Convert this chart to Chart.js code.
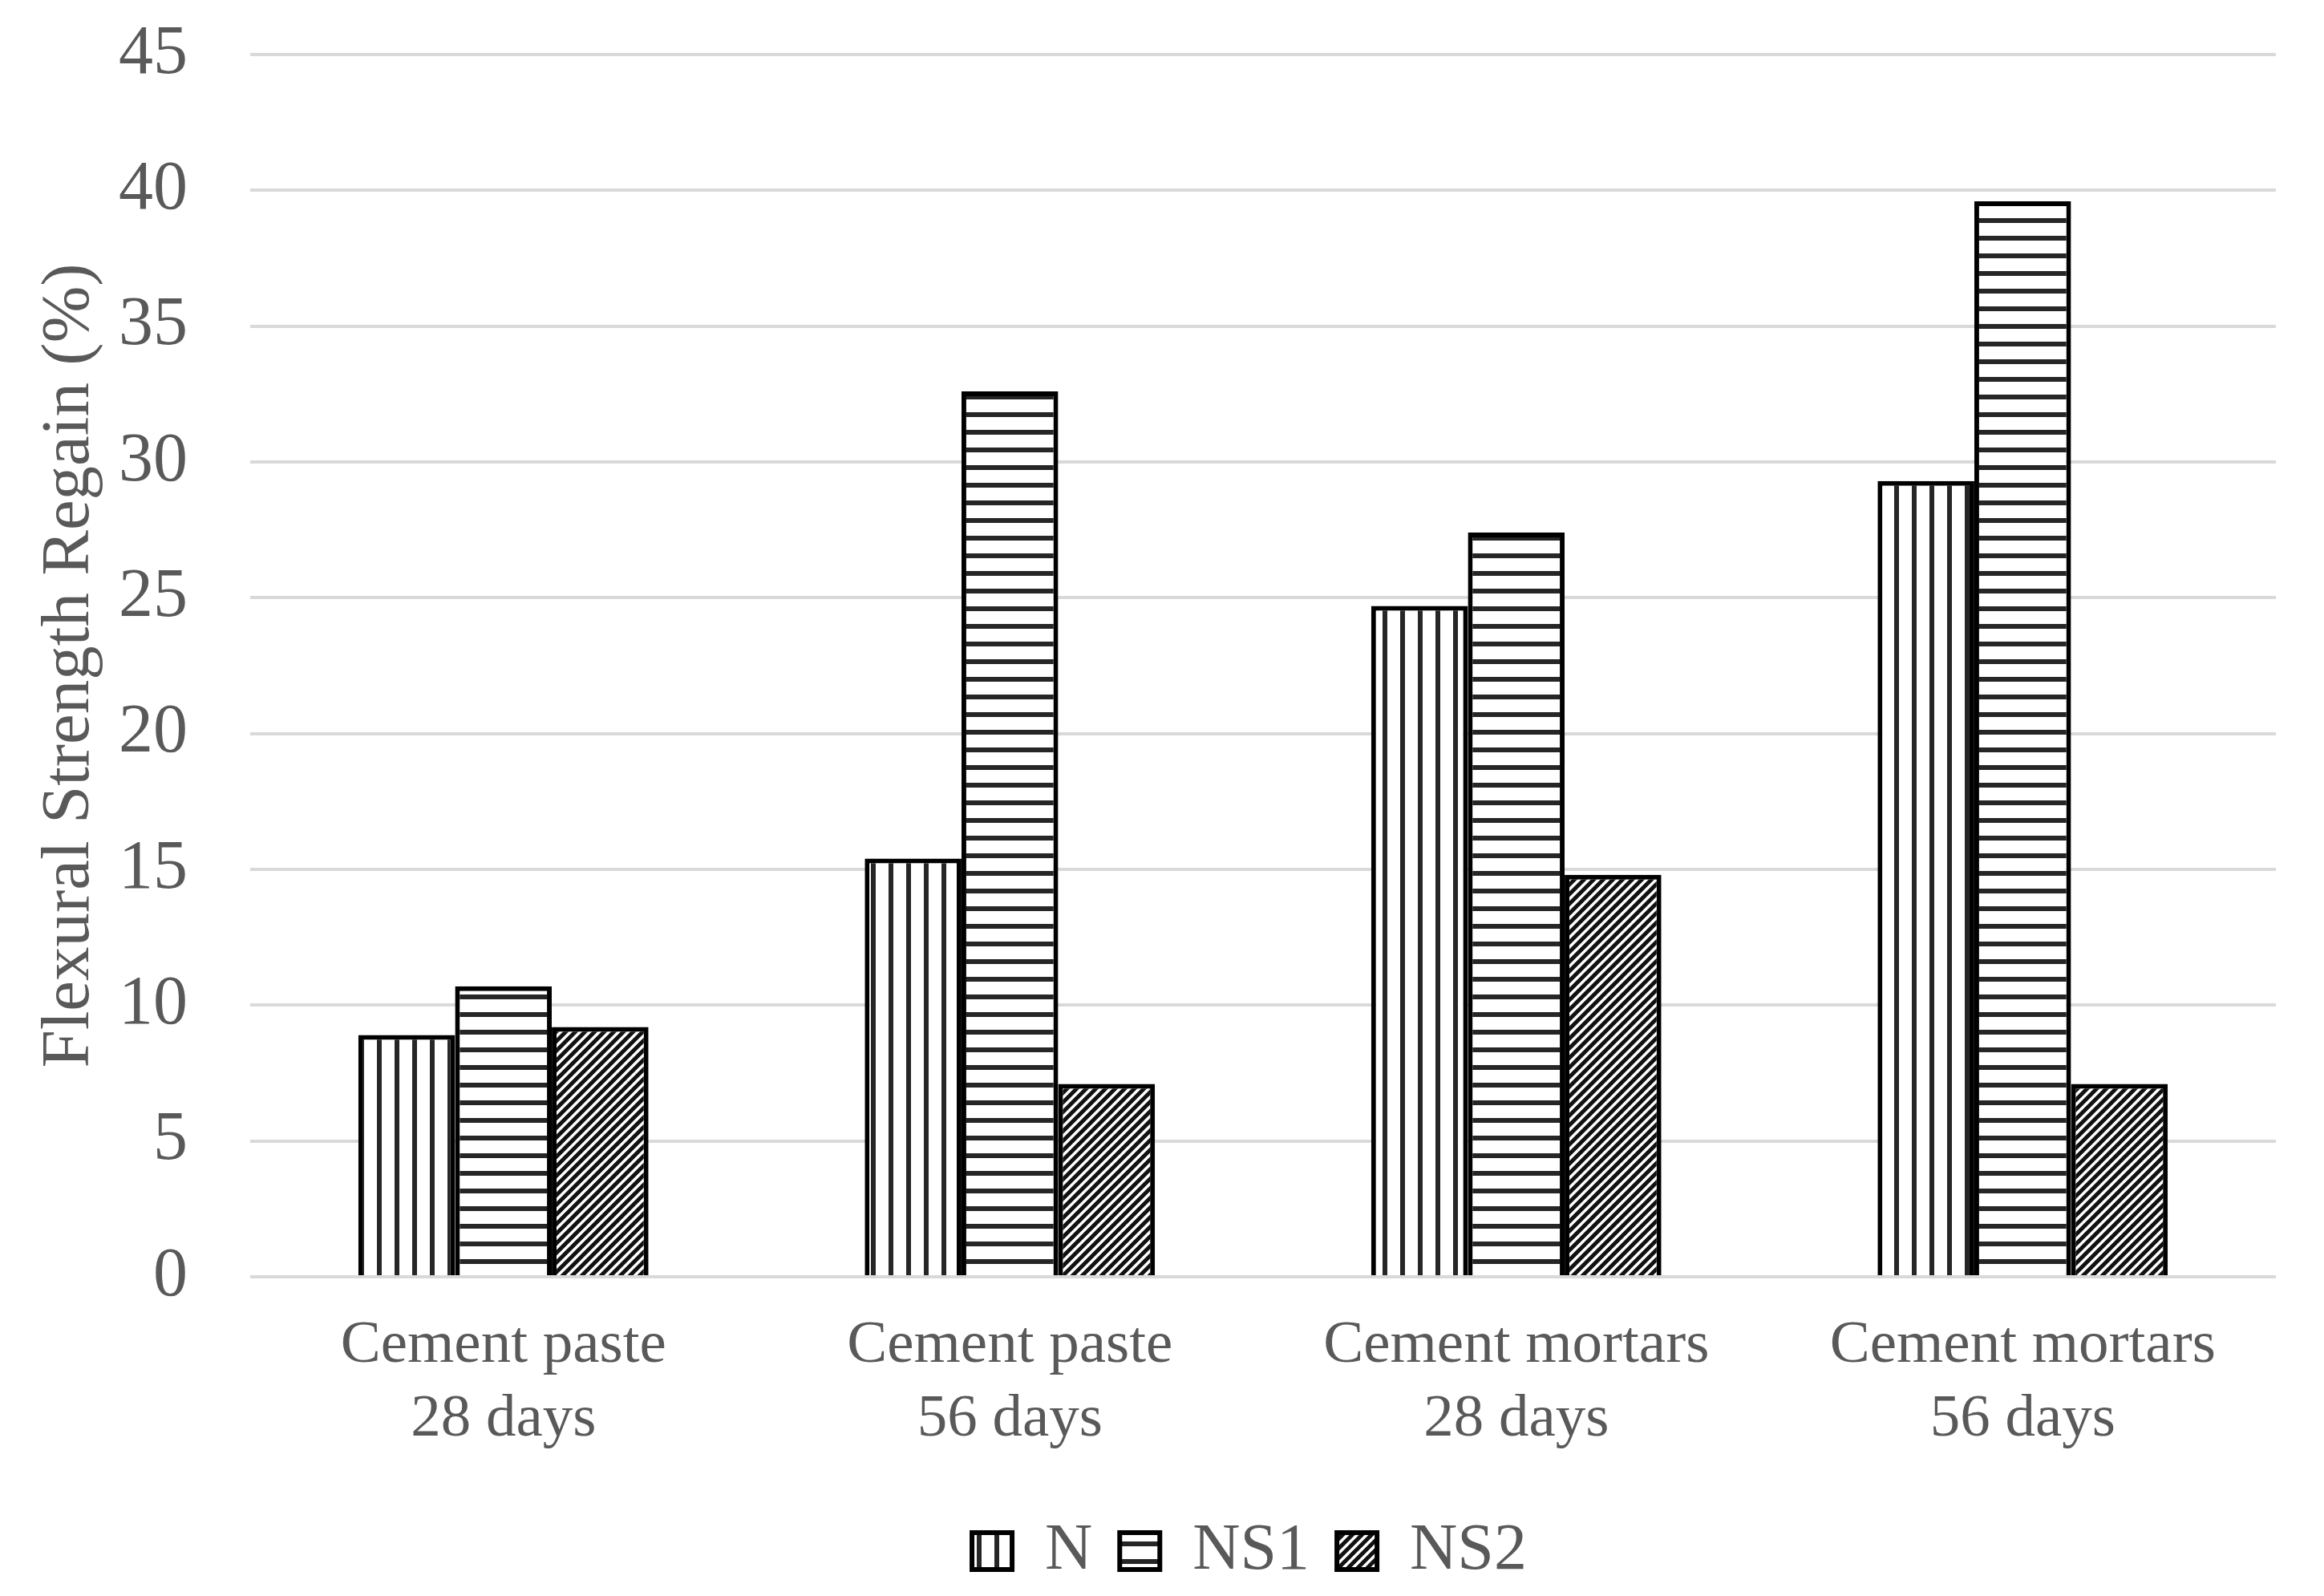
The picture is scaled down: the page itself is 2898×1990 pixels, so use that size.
<!DOCTYPE html>
<html>
<head>
<meta charset="utf-8">
<script src="https://cdn.jsdelivr.net/npm/chart.js@4/dist/chart.umd.min.js"></script>
<style>
  html, body { margin: 0; padding: 0; background: #ffffff; }
  #wrap { width: 2898px; height: 1990px; }
</style>
</head>
<body>
<div id="wrap"><canvas id="c" width="2898" height="1990"></canvas></div>
<script>
// ---- data ----
const categories = [
  ['Cement paste', '28 days'],
  ['Cement paste', '56 days'],
  ['Cement mortars', '28 days'],
  ['Cement mortars', '56 days']
];
const seriesNames = ['N', 'NS1', 'NS2'];
const valuesN   = [8.9, 15.4, 24.7, 29.3];
const valuesNS1 = [10.7, 32.6, 27.4, 39.6];
const valuesNS2 = [9.2, 7.1, 14.8, 7.1];
const yTicks = [0, 5, 10, 15, 20, 25, 30, 35, 40, 45];
const yTitle = 'Flexural Strength Regain (%)';

// ---- layout constants ----
const W = 2898, H = 1990;
const PLOT_LEFT = 312, PLOT_RIGHT = 2838, PLOT_TOP = 68, PLOT_BOTTOM = 1592;
const LEGEND_CENTER_X = 1558, LEGEND_TEXT_Y = 1934;
const TEXT = '#595959';
const FONT = '"Liberation Serif", "Times New Roman", serif';

// ---- patterns ----
function makePattern(kind) {
  const c = document.createElement('canvas');
  const ctx = c.getContext('2d');
  if (kind === 'v') {
    c.width = 22; c.height = 22;
    ctx.fillStyle = '#fff'; ctx.fillRect(0, 0, 22, 22);
    ctx.fillStyle = '#262626'; ctx.fillRect(8, 0, 6, 22);
  } else if (kind === 'h') {
    c.width = 22; c.height = 22;
    ctx.fillStyle = '#fff'; ctx.fillRect(0, 0, 22, 22);
    ctx.fillStyle = '#262626'; ctx.fillRect(0, 8, 22, 6);
  } else {
    const s = 12;
    c.width = s; c.height = s;
    ctx.fillStyle = '#fff'; ctx.fillRect(0, 0, s, s);
    ctx.strokeStyle = '#111'; ctx.lineWidth = 5; ctx.lineCap = 'square';
    ctx.beginPath();
    ctx.moveTo(0, s); ctx.lineTo(s, 0);
    ctx.moveTo(-s / 2, s / 2); ctx.lineTo(s / 2, -s / 2);
    ctx.moveTo(s / 2, s * 1.5); ctx.lineTo(s * 1.5, s / 2);
    ctx.stroke();
  }
  return c.getContext('2d').createPattern(c, 'repeat');
}
const patN = makePattern('v');
const patNS1 = makePattern('h');
const patNS2 = makePattern('d');

const legendShift = {
  id: 'legendShift',
  afterLayout(chart) {
    const l = chart.legend;
    if (!l) return;
    const dx = LEGEND_CENTER_X - (l.left + l.right) / 2;
    const pad = l.options.labels.padding;
    const fs = l.options.labels.font.size;
    const itemH = Math.max(fs, l.options.labels.boxHeight);
    const dy = LEGEND_TEXT_Y - (l.top + pad + itemH / 2);
    l.left += dx; l.right += dx; l.top += dy; l.bottom += dy;
  }
};

const barCommon = {
  borderColor: '#000',
  borderWidth: 6,
  categoryPercentage: 0.573,
  barPercentage: 1.0
};

new Chart(document.getElementById('c'), {
  type: 'bar',
  data: {
    labels: categories,
    datasets: [
      Object.assign({ label: seriesNames[0], data: valuesN, backgroundColor: patN }, barCommon),
      Object.assign({ label: seriesNames[1], data: valuesNS1, backgroundColor: patNS1 }, barCommon),
      Object.assign({ label: seriesNames[2], data: valuesNS2, backgroundColor: patNS2 }, barCommon)
    ]
  },
  options: {
    responsive: false,
    animation: false,
    devicePixelRatio: 1,
    layout: { padding: { left: 0, right: W - PLOT_RIGHT, top: PLOT_TOP, bottom: 0 } },
    plugins: {
      tooltip: { enabled: false },
      legend: {
        position: 'bottom',
        labels: {
          font: { family: FONT, size: 82 },
          color: TEXT,
          boxWidth: 50,
          boxHeight: 46,
          padding: 34
        }
      }
    },
    scales: {
      x: {
        grid: { display: false, drawTicks: false },
        border: { display: false },
        ticks: {
          font: { family: FONT, size: 75, lineHeight: 1.227 },
          color: TEXT,
          padding: 40,
          maxRotation: 0,
          autoSkip: false
        },
        afterFit(scale) {
          const lh = scale.chart.legend ? scale.chart.legend.height : 0;
          scale.height = H - PLOT_BOTTOM - lh;
          scale.paddingLeft = 0; scale.paddingRight = 0;
        }
      },
      y: {
        min: 0,
        max: 45,
        afterBuildTicks(scale) { scale.ticks = yTicks.map(v => ({ value: v })); },
        grid: { color: '#d9d9d9', lineWidth: 4, drawTicks: false },
        border: { display: false },
        ticks: {
          font: { family: FONT, size: 86 },
          color: TEXT,
          padding: 78
        },
        title: {
          display: true,
          text: yTitle,
          font: { family: FONT, size: 85 },
          color: TEXT,
          padding: { top: 37, bottom: 0 }
        },
        afterFit(scale) {
          scale.width = PLOT_LEFT;
          scale.paddingTop = 0; scale.paddingBottom = 0;
        }
      }
    }
  },
  plugins: [legendShift]
});
</script>
</body>
</html>
